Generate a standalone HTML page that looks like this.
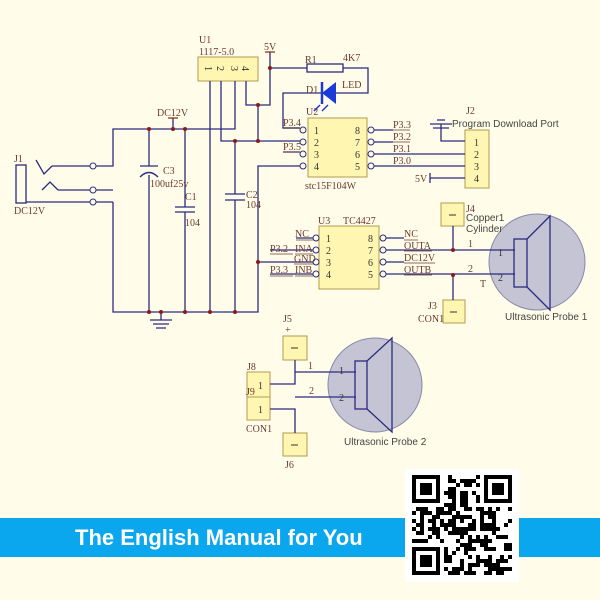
<!DOCTYPE html>
<html><head><meta charset="utf-8"><style>
html,body{margin:0;padding:0;background:#fffde9;}
svg{display:block}
.s{font-family:"Liberation Serif",serif;font-size:10px;fill:#6b3a2e}
.a{font-family:"Liberation Sans",sans-serif;font-size:10px;fill:#444}
.n{font-family:"Liberation Serif",serif;font-size:10px;fill:#333}
</style></head><body>
<svg width="600" height="600" viewBox="0 0 600 600" xmlns="http://www.w3.org/2000/svg">
<rect width="600" height="600" fill="#fffde9"/>
<g fill="#fff6b2" stroke="#b09a50" stroke-width="1">
<rect x="198" y="57" width="60" height="24"/>
<rect x="308" y="118" width="59" height="59"/>
<rect x="465" y="130" width="24" height="58"/>
<rect x="319" y="226" width="60" height="63"/>
<rect x="441" y="203" width="23" height="23"/>
<rect x="443" y="300" width="22" height="23"/>
<rect x="283" y="336" width="24" height="24"/>
<rect x="247" y="372" width="23" height="25"/>
<rect x="247" y="397" width="23" height="23"/>
<rect x="283" y="433" width="24" height="23"/>
</g>
<circle cx="537" cy="262" r="48" fill="#c4c4d4" stroke="#8888aa"/>
<circle cx="375" cy="385" r="47" fill="#c4c4d4" stroke="#8888aa"/>
<g fill="none" stroke="#2b2b80" stroke-width="1.3">
<path d="M210 81V312M221 81V141H305M235 81V129H113V166H96M246 81V105H270V52M258 105V141M270 68H307M343 68H368V93H336M322 93H283V128H300"/>
<path d="M113 202V312H258V166H300M96 202H113M96 190H113M258 262H313"/>
<path d="M173 118V129M149 129V166M149 175V312M185 129V207M185 212V312M235 141V194M235 200V312"/>
<path d="M26 202H90M52 166H90M58 190H90M36 160L44 174L52 166M42 190L50 182L58 190"/>
<rect x="16" y="165" width="10" height="38"/>
<path d="M140 166H158M175 207H195M175 212H195M225 194H245M225 200H245"/>
<path d="M140 177Q149 168 158 177"/>
<path d="M161 312V320M150 320H172M153 324H169M156 328H166"/>
<rect x="307" y="64" width="36" height="8"/>
<path d="M283 128H300M283 152H300M374 130H393M374 142H393M374 154H465M374 166H465M441 124V141H465M430 178H465M430 173V183"/>
<path d="M430 124H452M433 128H449M437 120H445"/>
<path d="M270 250H313M270 274H313M296 238H313M386 238H404M386 250H515M386 262H404M386 274H515M453 226V250M453 275V300"/>
<rect x="514" y="239" width="13" height="48"/>
<path d="M527 239L550 216V310L527 287"/>
<path d="M295 360V384H270M295 372H356M270 409H295V433M295 397H356"/>
<rect x="355" y="361" width="12" height="48"/>
<path d="M367 361L392 338V432L367 409"/>
</g>
<path d="M336 82V104L322 93Z" fill="#1c3ad8"/><path d="M322 82V104" stroke="#1c3ad8" stroke-width="2.5"/>
<path d="M320 105L314 111M328 105L322 111" stroke="#1c3ad8" stroke-width="1.5"/>
<g fill="#fffde9" stroke="#2b2b80">
<circle cx="93" cy="166" r="3"/><circle cx="93" cy="190" r="3"/><circle cx="93" cy="202" r="3"/>
<circle cx="303" cy="130" r="3"/><circle cx="303" cy="142" r="3"/><circle cx="303" cy="154" r="3"/><circle cx="303" cy="166" r="3"/>
<circle cx="371" cy="130" r="3"/><circle cx="371" cy="142" r="3"/><circle cx="371" cy="154" r="3"/><circle cx="371" cy="166" r="3"/>
<circle cx="316" cy="238" r="3"/><circle cx="316" cy="250" r="3"/><circle cx="316" cy="262" r="3"/><circle cx="316" cy="274" r="3"/>
<circle cx="383" cy="238" r="3"/><circle cx="383" cy="250" r="3"/><circle cx="383" cy="262" r="3"/><circle cx="383" cy="274" r="3"/>
</g>
<path d="M265 52H275M168 118H178" stroke="#8b2a1a" stroke-width="1.3"/>
<g fill="#8b1a1a">
<circle cx="270" cy="68" r="2"/><circle cx="258" cy="105" r="2"/><circle cx="258" cy="141" r="2"/><circle cx="258" cy="262" r="2"/>
<circle cx="149" cy="129" r="2"/><circle cx="173" cy="129" r="2"/><circle cx="185" cy="129" r="2"/><circle cx="235" cy="141" r="2"/>
<circle cx="149" cy="312" r="2"/><circle cx="161" cy="312" r="2"/><circle cx="185" cy="312" r="2"/><circle cx="210" cy="312" r="2"/><circle cx="235" cy="312" r="2"/>
<circle cx="453" cy="250" r="2"/><circle cx="453" cy="275" r="2"/>
</g>
<g class="s">
<text x="199" y="43">U1</text><text x="199" y="55">1117-5.0</text><text x="264" y="50">5V</text>
<text x="157" y="116">DC12V</text><text x="163" y="174">C3</text><text x="150" y="187">100uf25v</text>
<text x="185" y="200">C1</text><text x="185" y="226">104</text><text x="246" y="198">C2</text><text x="246" y="208">104</text>
<text x="14" y="162">J1</text><text x="14" y="214">DC12V</text>
<text x="305" y="63">R1</text><text x="343" y="61">4K7</text><text x="306" y="93">D1</text><text x="342" y="88">LED</text>
<text x="306" y="115">U2</text><text x="305" y="189">stc15F104W</text>
<text x="283" y="126">P3.4</text><text x="283" y="150">P3.5</text>
<text x="393" y="128">P3.3</text><text x="393" y="140">P3.2</text><text x="393" y="152">P3.1</text><text x="393" y="164">P3.0</text>
<text x="415" y="182">5V</text><text x="466" y="114">J2</text>
<text x="318" y="224">U3</text><text x="343" y="224">TC4427</text>
<text x="295" y="237">NC</text><text x="270" y="252">P3.2</text><text x="295" y="252">INA</text><text x="294" y="262">GND</text>
<text x="270" y="273">P3.3</text><text x="295" y="273">INB</text>
<text x="404" y="237">NC</text><text x="404" y="249">OUTA</text><text x="404" y="261">DC12V</text><text x="404" y="273">OUTB</text>
<text x="466" y="212">J4</text><text x="428" y="309">J3</text><text x="418" y="322">CON1</text>
<text x="283" y="322">J5</text><text x="285" y="333">+</text><text x="247" y="370">J8</text><text x="246" y="395">J9</text>
<text x="246" y="432">CON1</text><text x="285" y="468">J6</text>
<text x="468" y="247">1</text><text x="468" y="272">2</text><text x="480" y="287">T</text><text x="308" y="369">1</text><text x="309" y="394">2</text>
</g>
<g stroke="#6b3a2e" stroke-width="0.8">
<path d="M283 128H300M283 152H300M393 130H410M393 142H410M270 254H293M295 254H313M270 276H293M295 276H313M296 240H313M294 264H313M404 240H418M404 251H432M404 263H435M404 275H432"/>
</g>
<g class="n">
<text x="314" y="134">1</text><text x="314" y="146">2</text><text x="314" y="158">3</text><text x="314" y="170">4</text>
<text x="355" y="134">8</text><text x="355" y="146">7</text><text x="355" y="158">6</text><text x="355" y="170">5</text>
<text x="326" y="242">1</text><text x="326" y="254">2</text><text x="326" y="266">3</text><text x="326" y="278">4</text>
<text x="368" y="242">8</text><text x="368" y="254">7</text><text x="368" y="266">6</text><text x="368" y="278">5</text>
<text x="474" y="146">1</text><text x="474" y="158">2</text><text x="474" y="170">3</text><text x="474" y="182">4</text>
<text x="258" y="389">1</text><text x="258" y="413">1</text>
<text x="498" y="256">1</text><text x="498" y="281">2</text><text x="339" y="374">1</text><text x="339" y="401">2</text>
<text x="206" y="73" transform="rotate(90 209 69)">1</text><text x="218" y="73" transform="rotate(90 221 69)">2</text>
<text x="232" y="73" transform="rotate(90 235 69)">3</text><text x="243" y="73" transform="rotate(90 246 69)">4</text>
</g>
<g stroke="#333"><path d="M449 215H456M450 312H457M291 348H298M291 445H298"/></g>
<g class="a">
<text x="452" y="127">Program Download Port</text><text x="466" y="221">Copper1</text><text x="466" y="232">Cylinder</text>
<text x="505" y="320">Ultrasonic Probe 1</text><text x="344" y="445">Ultrasonic Probe 2</text>
</g>
<rect x="0" y="518" width="600" height="39" fill="#0aa6ee"/>
<text x="75" y="545" font-family="Liberation Sans, sans-serif" font-size="22" font-weight="bold" fill="#fff">The English Manual for You</text>
<rect x="405" y="469" width="114" height="113" fill="#fff"/>
<g id="qr" fill="#000"></g>
</svg>
<script>
(function(){var g=document.getElementById('qr'),N=25,s=4,x0=412,y0=475,h='';
var seed=7;function r(){seed=(seed*1103515245+12345)&0x7fffffff;return seed/0x7fffffff;}
function fin(i,j){return (i<8&&j<8)||(i<8&&j>=N-8)||(i>=N-8&&j<8);}
for(var i=0;i<N;i++)for(var j=0;j<N;j++){var on;
if(fin(i,j)){var a=i>=N-8?i-(N-7):i,b=j>=N-8?j-(N-7):j;
if(a<0||b<0||a>6||b>6)on=false;else on=(a==0||a==6||b==0||b==6||(a>=2&&a<=4&&b>=2&&b<=4));}
else on=r()<0.5;
if(on)h+='<rect x="'+(x0+j*s)+'" y="'+(y0+i*s)+'" width="'+s+'" height="'+s+'"/>';}
g.innerHTML=h;})();
</script>
</body></html>
